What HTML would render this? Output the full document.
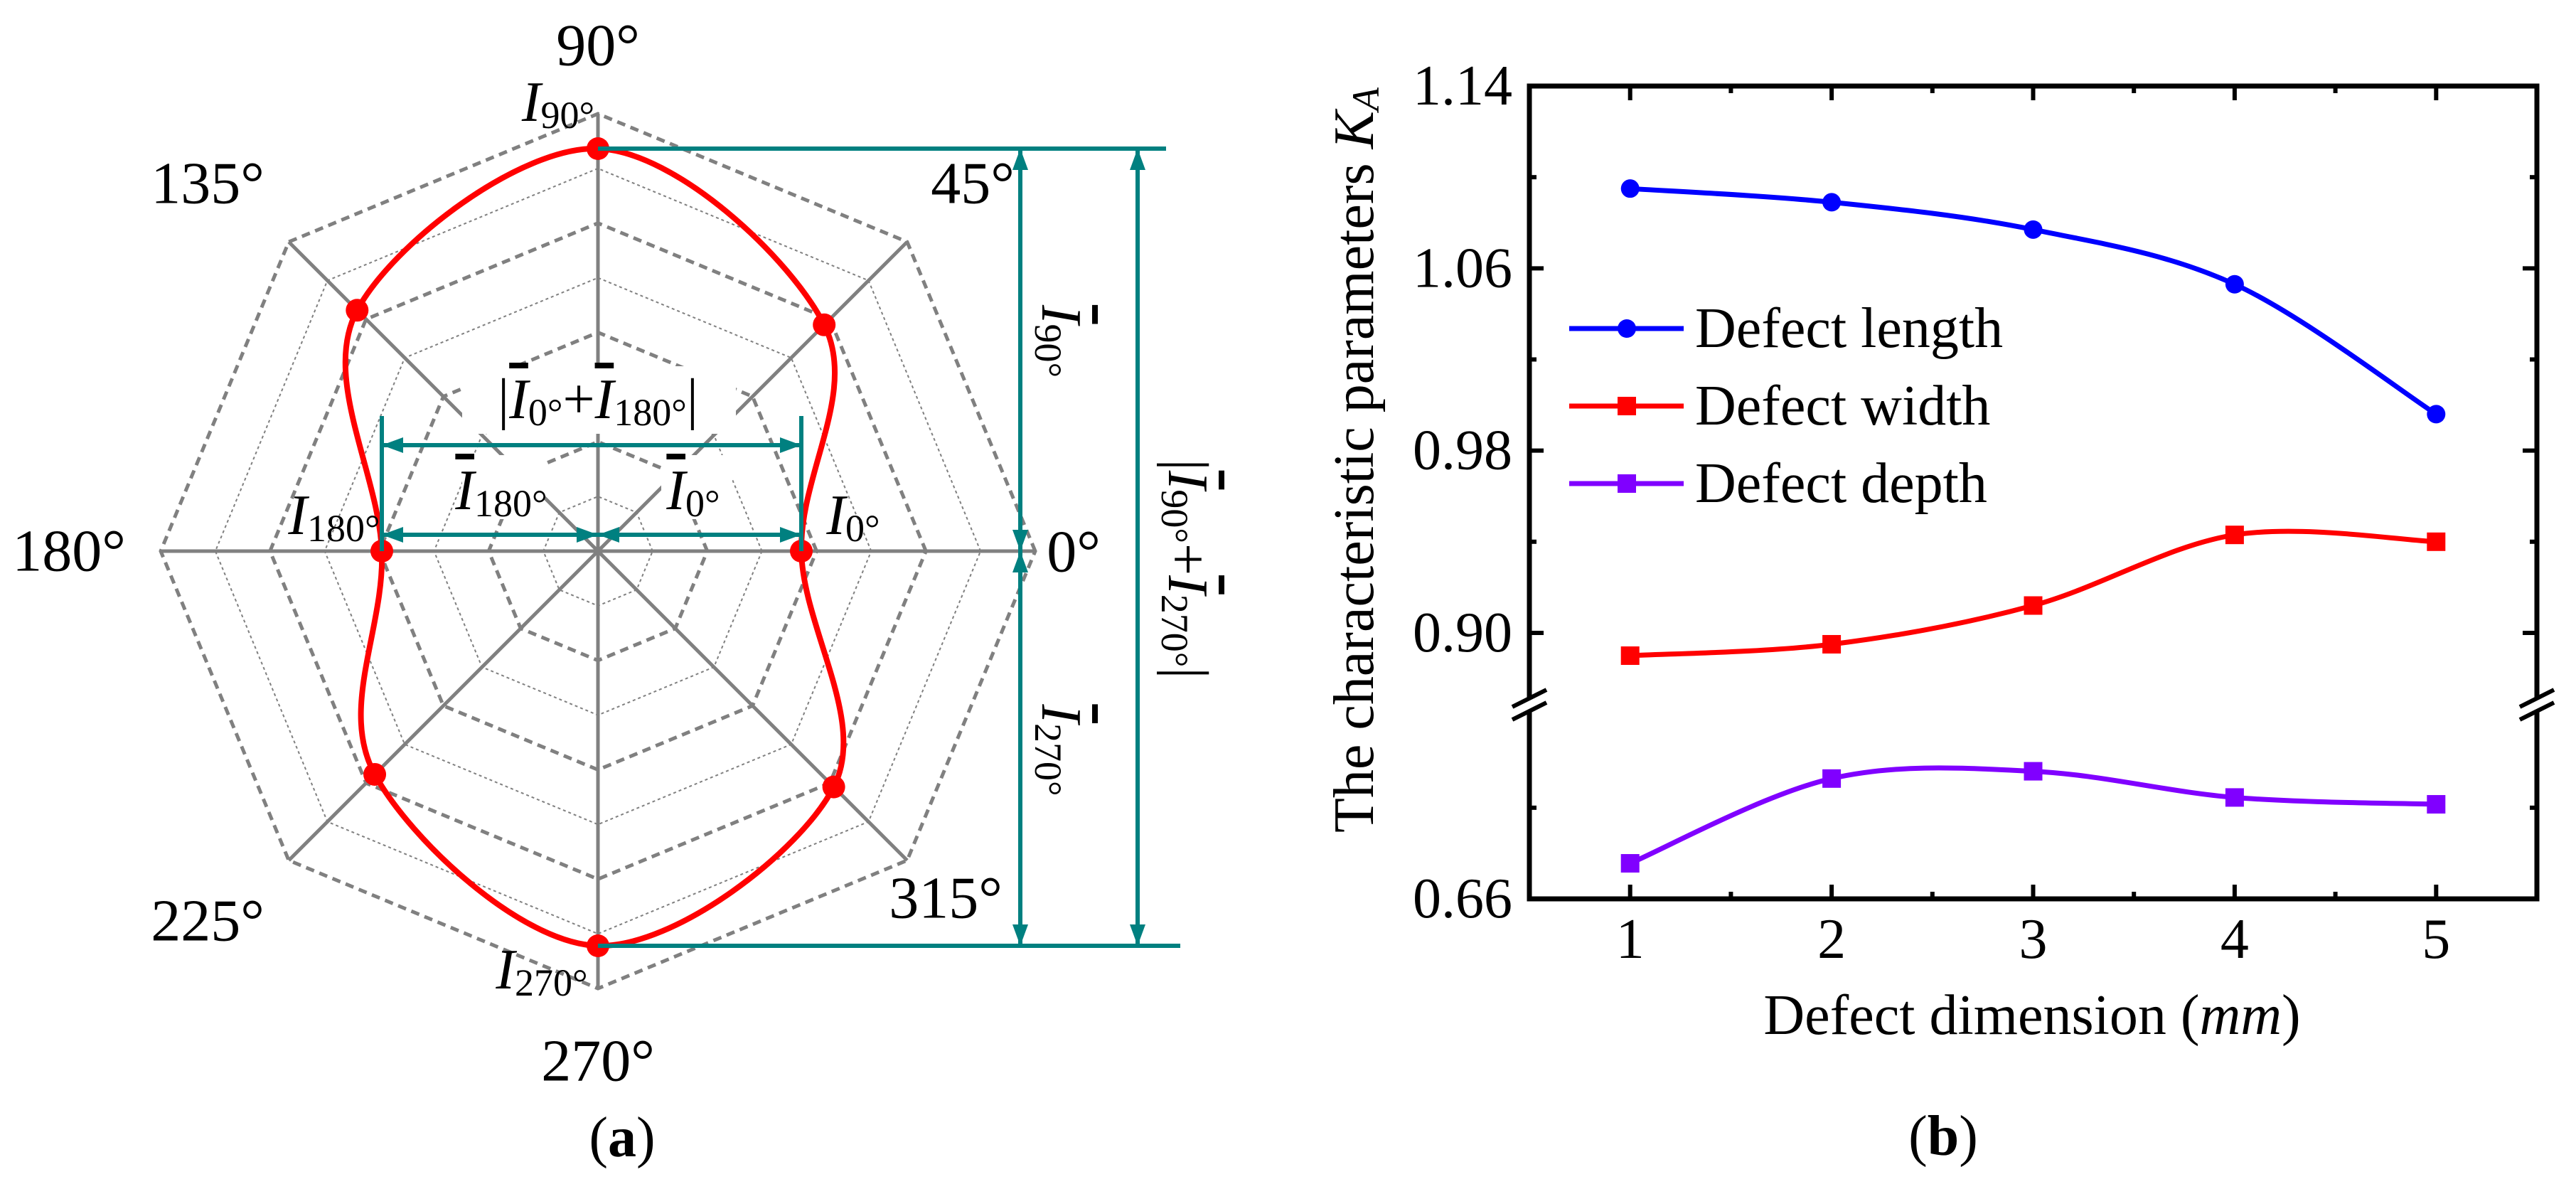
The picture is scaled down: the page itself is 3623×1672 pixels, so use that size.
<!DOCTYPE html>
<html><head><meta charset="utf-8"><style>
html,body{margin:0;padding:0;background:#fff;}
svg{display:block;}
text{font-family:"Liberation Serif","DejaVu Serif",serif;}
</style></head><body>
<svg id="fig" width="3623" height="1672" viewBox="0 0 3623 1672" xmlns="http://www.w3.org/2000/svg" font-family="Liberation Serif, serif">
<g id="panelA"></g>
<g id="panelB"></g>
</svg>
<script>
// ---------- Panel (a) data ----------
const polarAngles = [0, 45, 90, 135, 180, 225, 270, 315];
const polarRadii = [286, 450, 566, 479, 304, 444, 555, 469];
// ---------- Panel (b) data ----------
const dims = [1, 2, 3, 4, 5];
const lengthVals = [1.095, 1.089, 1.077, 1.053, 0.996];
const widthVals = [0.890, 0.895, 0.912, 0.943, 0.940];
const depthVals = [0.6756, 0.7128, 0.716, 0.7045, 0.7015];
const yTickVals = [1.14, 1.06, 0.98, 0.90, 0.66];
const yTickLabels = ["1.14", "1.06", "0.98", "0.90", "0.66"];
const xTickVals = [1, 2, 3, 4, 5];

const NS = "http://www.w3.org/2000/svg";
const FF = '"Liberation Serif", "DejaVu Serif", serif';
function mk(parent, tag, attrs){const e=document.createElementNS(NS,tag);for(const k in attrs)e.setAttribute(k,attrs[k]);parent.appendChild(e);return e;}
function txt(parent, x, y, s, size, extra){const t=mk(parent,'text',Object.assign({x:x,y:y,'font-size':size,'font-family':FF,'text-anchor':'middle','dominant-baseline':'central',fill:'#000'},extra||{}));t.style.fontFamily=FF;t.innerHTML=s;return t;}
function catmull(pts, closed){
  const n=pts.length;let d='M'+pts[0][0]+','+pts[0][1];
  const get=i=>closed?pts[(i+n)%n]:pts[Math.max(0,Math.min(n-1,i))];
  const segs=closed?n:n-1;
  for(let i=0;i<segs;i++){const p0=get(i-1),p1=get(i),p2=get(i+1),p3=get(i+2);
    const c1=[p1[0]+(p2[0]-p0[0])/6,p1[1]+(p2[1]-p0[1])/6];
    const c2=[p2[0]-(p3[0]-p1[0])/6,p2[1]-(p3[1]-p1[1])/6];
    d+=' C'+c1[0]+','+c1[1]+' '+c2[0]+','+c2[1]+' '+p2[0]+','+p2[1];}
  return d+(closed?'Z':'');
}

// ================= PANEL A =================
const A=document.getElementById('panelA');
const cx=841, cy=775, R=615, step=R/8;
const TEAL='#008080';
function pol(r,deg){const a=deg*Math.PI/180;return [cx+r*Math.cos(a), cy-r*Math.sin(a)];}
for(let k=1;k<=8;k++){
  const r=k*step;const pts=polarAngles.map(a=>pol(r,a));
  const ring=mk(A,'polygon',{points:pts.map(p=>p.join(',')).join(' '),fill:'none',stroke:'#808080',
    'stroke-width':k%2===0?5:2,'stroke-dasharray':k%2===0?'12 8':'4 4'});
  
  
}
polarAngles.forEach(a=>{const p=pol(R,a);const s=mk(A,'line',{x1:cx,y1:cy,x2:p[0],y2:p[1],stroke:'#808080','stroke-width':5});
  
  });
mk(A,'rect',{x:650,y:515,width:385,height:95,fill:'#fff'});
mk(A,'rect',{x:650,y:640,width:115,height:90,fill:'#fff'});
mk(A,'rect',{x:930,y:640,width:100,height:90,fill:'#fff'});
const rpts=polarAngles.map((a,i)=>pol(polarRadii[i],a));
const curve=mk(A,'path',{d:catmull(rpts,true),fill:'none',stroke:'#ff0000','stroke-width':8});


rpts.forEach(p=>{const c=mk(A,'circle',{cx:p[0],cy:p[1],r:16,fill:'#ff0000'});
  
  });
function tline(x1,y1,x2,y2){mk(A,'line',{x1:x1,y1:y1,x2:x2,y2:y2,stroke:TEAL,'stroke-width':6});}
function arrow(x,y,dir){
  const L=30,W=11;let pts;
  if(dir==='up')pts=[[x,y],[x-W,y+L],[x+W,y+L]];
  if(dir==='down')pts=[[x,y],[x-W,y-L],[x+W,y-L]];
  if(dir==='left')pts=[[x,y],[x+L,y-W],[x+L,y+W]];
  if(dir==='right')pts=[[x,y],[x-L,y-W],[x-L,y+W]];
  mk(A,'polygon',{points:pts.map(p=>p.join(',')).join(' '),fill:TEAL});}
const yTop=cy-polarRadii[2], yBot=cy+polarRadii[6];
const xL=cx-polarRadii[4], xR=cx+polarRadii[0];
tline(cx,yTop,1640,yTop); tline(cx,yBot,1660,yBot);
tline(1435,yTop,1435,yBot); arrow(1435,yTop,'up'); arrow(1435,cy,'down'); arrow(1435,cy,'up'); arrow(1435,yBot,'down');
tline(1600,yTop,1600,yBot); arrow(1600,yTop,'up'); arrow(1600,yBot,'down');
tline(xL,585,xL,cy); tline(xR,585,xR,cy);
tline(xL,626,xR,626); arrow(xL,626,'left'); arrow(xR,626,'right');
tline(xL,752,xR,752); arrow(xL,752,'left'); arrow(xR,752,'right'); arrow(cx,752,'right'); arrow(cx,752,'left');
const angLab=[["90°",841,64],["45°",1368,258],["135°",292,258],["180°",97,775],["0°",1510,776],["225°",292,1295],["315°",1330,1263],["270°",841,1492]];
angLab.forEach(l=>{const t=txt(A,l[1],l[2],l[0],84);
  
  });
function ilab(x,y,sub,bar,size){
  const t=txt(A,x,y,'',size||80,{'font-style':'italic'});
  t.innerHTML=(bar?'<tspan text-decoration="overline">I</tspan>':'I')+'<tspan font-style="normal" font-size="'+Math.round((size||80)*0.68)+'" dy="18">'+sub+'</tspan>';
  return t;}
ilab(785,144,'90°',false);
ilab(470,725,'180°',false);
ilab(1200,725,'0°',false);
ilab(762,1364,'270°',false);
ilab(705,690,'180°',true);
ilab(975,690,'0°',true);
{const t=txt(A,841,562,'',80);t.innerHTML='|<tspan font-style="italic" text-decoration="overline">I</tspan><tspan font-size="54" dy="18">0°</tspan><tspan dy="-18">+</tspan><tspan font-style="italic" text-decoration="overline">I</tspan><tspan font-size="54" dy="18">180°</tspan><tspan dy="-18">|</tspan>';}
{const g=mk(A,'g',{transform:'translate(1492,480) rotate(90)'});const t=txt(g,0,0,'',80);t.innerHTML='<tspan font-style="italic" text-decoration="overline">I</tspan><tspan font-size="54" dy="18">90°</tspan>';}
{const g=mk(A,'g',{transform:'translate(1492,1055) rotate(90)'});const t=txt(g,0,0,'',80);t.innerHTML='<tspan font-style="italic" text-decoration="overline">I</tspan><tspan font-size="54" dy="18">270°</tspan>';}
{const g=mk(A,'g',{transform:'translate(1670,800) rotate(90)'});const t=txt(g,0,0,'',80);t.innerHTML='|<tspan font-style="italic" text-decoration="overline">I</tspan><tspan font-size="54" dy="18">90°</tspan><tspan dy="-18">+</tspan><tspan font-style="italic" text-decoration="overline">I</tspan><tspan font-size="54" dy="18">270°</tspan><tspan dy="-18">|</tspan>';}
{const t=txt(A,875,1600,'(<tspan font-weight="bold">a</tspan>)',80);}

// ================= PANEL B =================
const B=document.getElementById('panelB');
const L=2151, Rt=3568, T=121, Bt=1264, breakY=991;
const xs=v=>L+(v-0.5)/5*(Rt-L);
const ys=v=>v>=0.8 ? T+(1.14-v)*3204 : Bt-(v-0.66)*3204;
const ax=mk(B,'path',{d:`M${L},${breakY-12} L${L},${T} L${Rt},${T} L${Rt},${breakY-12} M${L},${breakY+12} L${L},${Bt} L${Rt},${Bt} L${Rt},${breakY+12}`,fill:'none',stroke:'#000','stroke-width':7,'stroke-linecap':'square'});


[L,Rt].forEach(x=>{[-9,9].forEach(o=>{mk(B,'line',{x1:x-24,y1:breakY+o+12,x2:x+24,y2:breakY+o-12,stroke:'#000','stroke-width':6});});});
for(let v=1;v<=5.01;v+=0.5){const major=Math.abs(v-Math.round(v))<1e-6;const len=major?20:10;
  mk(B,'line',{x1:xs(v),y1:Bt,x2:xs(v),y2:Bt-len,stroke:'#000','stroke-width':6});
  mk(B,'line',{x1:xs(v),y1:T,x2:xs(v),y2:T+len,stroke:'#000','stroke-width':6});}
xTickVals.forEach(v=>{const t=txt(B,xs(v),1321,String(v),80);
  
  });
const yTickAll=[[1.14,1],[1.10,0],[1.06,1],[1.02,0],[0.98,1],[0.94,0],[0.90,1],[0.70,0],[0.66,1]];
yTickAll.forEach(p=>{const y=ys(p[0]);const len=p[1]?20:10;
  mk(B,'line',{x1:L,y1:y,x2:L+len,y2:y,stroke:'#000','stroke-width':6});
  mk(B,'line',{x1:Rt,y1:y,x2:Rt-len,y2:y,stroke:'#000','stroke-width':6});});
yTickVals.forEach((v,i)=>{const t=txt(B,2127,ys(v),yTickLabels[i],80,{'text-anchor':'end'});
  
  });
{const g=mk(B,'g',{transform:'translate(1905,647) rotate(-90)'});const t=txt(g,0,0,'The characteristic parameters <tspan font-style="italic">K</tspan><tspan font-style="italic" font-size="54" dy="16">A</tspan>',80);
  }
{const t=txt(B,2858,1428,'Defect dimension (<tspan font-style="italic">mm</tspan>)',80);
  }
{const t=txt(B,2733,1598,'(<tspan font-weight="bold">b</tspan>)',80);}
const series=[[lengthVals,'#0000ff','circle','length'],[widthVals,'#ff0000','square','width'],[depthVals,'#8000ff','square','depth']];
series.forEach(s=>{
  const pts=dims.map((d,i)=>[xs(d),ys(s[0][i])]);
  const p=mk(B,'path',{d:catmull(pts,false),fill:'none',stroke:s[1],'stroke-width':7});
  
  
  pts.forEach(q=>{let m;
    if(s[2]==='circle')m=mk(B,'circle',{cx:q[0],cy:q[1],r:13,fill:s[1]});
    else m=mk(B,'rect',{x:q[0]-13,y:q[1]-13,width:26,height:26,fill:s[1]});
    
    });
});
const legY=[462,571,680];
const legNames=['Defect length','Defect width','Defect depth'];
series.forEach((s,i)=>{
  const g=mk(B,'g',{});
  
  
  mk(g,'line',{x1:2207,y1:legY[i],x2:2368,y2:legY[i],stroke:s[1],'stroke-width':7});
  if(s[2]==='circle')mk(g,'circle',{cx:2288,cy:legY[i],r:13,fill:s[1]});
  else mk(g,'rect',{x:2275,y:legY[i]-13,width:26,height:26,fill:s[1]});
  txt(g,2384,legY[i],legNames[i],80,{'text-anchor':'start'});
});
</script>
</body></html>
